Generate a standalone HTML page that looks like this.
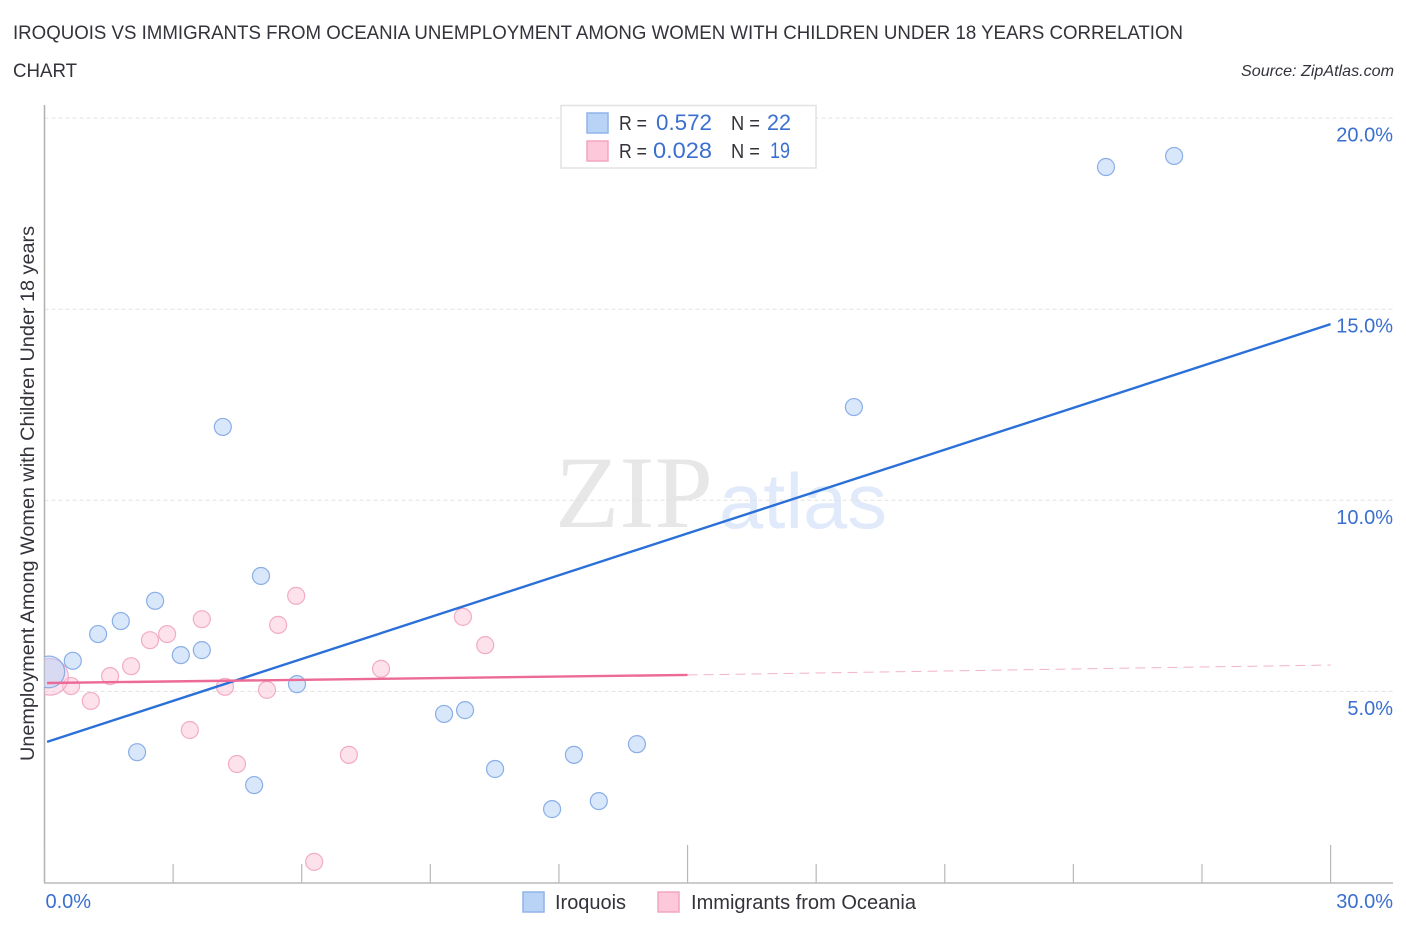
<!DOCTYPE html>
<html lang="en">
<head>
<meta charset="utf-8">
<title>Iroquois vs Immigrants from Oceania Correlation Chart</title>
<style>
html,body{margin:0;padding:0;background:#fff;width:1406px;height:930px;overflow:hidden}
svg{display:block;font-family:"Liberation Sans",sans-serif}
</style>
</head>
<body>
<svg id="chart" xmlns="http://www.w3.org/2000/svg" width="1406" height="930" viewBox="0 0 1406 930">
  <defs><clipPath id="plot-clip"><rect x="44.5" y="100" width="1300" height="783"/></clipPath></defs>
  <text x="13" y="39" font-size="19.5" fill="#33333b" textLength="1170" lengthAdjust="spacingAndGlyphs">IROQUOIS VS IMMIGRANTS FROM OCEANIA UNEMPLOYMENT AMONG WOMEN WITH CHILDREN UNDER 18 YEARS CORRELATION</text>
  <text x="13" y="77" font-size="19.5" fill="#33333b" textLength="64" lengthAdjust="spacingAndGlyphs">CHART</text>
  <text x="1394" y="76" font-size="16.100" font-style="italic" fill="#33333b" text-anchor="end">Source: ZipAtlas.com</text>
  <text x="555" y="527" font-family="'Liberation Serif',serif" font-size="103" fill="#e7e7e7" textLength="158" lengthAdjust="spacingAndGlyphs">ZIP</text>
  <text x="719" y="528" font-family="'Liberation Sans',sans-serif" font-size="78" fill="#e0eafa" textLength="168" lengthAdjust="spacingAndGlyphs">atlas</text>
  <g id="grid"></g>
  <g id="axes"></g>
  <g id="points-pink" clip-path="url(#plot-clip)"></g>
  <g id="points-blue" clip-path="url(#plot-clip)"></g>
  <g id="trends"></g>
  <g id="tick-labels"></g>
  <text transform="translate(34,761) rotate(-90)" font-size="19" fill="#33333b" textLength="535" lengthAdjust="spacingAndGlyphs">Unemployment Among Women with Children Under 18 years</text>

  <g>
    <rect x="561" y="105.500" width="255" height="62.500" fill="#fff" stroke="#e2e2e2" stroke-width="1.500"/>
    <rect x="587" y="113" width="21" height="20" fill="#b9d3f7" stroke="#8fb4ea" stroke-width="1.500"/>
    <rect x="587" y="141" width="21" height="20" fill="#fcc8da" stroke="#f3a6c0" stroke-width="1.500"/>
    <text x="619" y="130" font-size="20" fill="#33333b" textLength="28" lengthAdjust="spacingAndGlyphs">R =</text>
    <text x="656" y="130" font-size="22" fill="#3a6fd0" textLength="56" lengthAdjust="spacingAndGlyphs">0.572</text>
    <text x="731" y="130" font-size="20" fill="#33333b" textLength="29" lengthAdjust="spacingAndGlyphs">N =</text>
    <text x="767" y="130" font-size="22" fill="#3a6fd0" textLength="24" lengthAdjust="spacingAndGlyphs">22</text>
    <text x="619" y="158" font-size="20" fill="#33333b" textLength="28" lengthAdjust="spacingAndGlyphs">R =</text>
    <text x="653" y="158" font-size="22" fill="#3a6fd0" textLength="59" lengthAdjust="spacingAndGlyphs">0.028</text>
    <text x="731" y="158" font-size="20" fill="#33333b" textLength="29" lengthAdjust="spacingAndGlyphs">N =</text>
    <text x="770" y="158" font-size="22" fill="#3a6fd0" textLength="20" lengthAdjust="spacingAndGlyphs">19</text>
  </g>

  <g>
    <rect x="523" y="892" width="21" height="20" fill="#b9d3f7" stroke="#8fb4ea" stroke-width="1.500"/>
    <text x="555" y="909" font-size="20" fill="#33333b" textLength="71" lengthAdjust="spacingAndGlyphs">Iroquois</text>
    <rect x="658" y="892" width="21" height="20" fill="#fcc8da" stroke="#f3a6c0" stroke-width="1.500"/>
    <text x="691" y="909" font-size="20" fill="#33333b" textLength="225" lengthAdjust="spacingAndGlyphs">Immigrants from Oceania</text>
  </g>
</svg>
<script>
const yTickValues = [5, 10, 15, 20];
const yTickLabels = ['5.0%', '10.0%', '15.0%', '20.0%'];
const xTickValues = [0, 3, 6, 9, 12, 15, 18, 21, 24, 27, 30];
const xTallTicks = [0, 15, 30];
const xEndValues = [0, 30];
const xEndLabels = ['0.0%', '30.0%'];

const iroquoisX = [24.76, 26.35, 18.88, 4.16, 5.05, 2.58, 1.78, 1.25, 0.66, 3.18, 3.67, 5.89, 9.32, 9.81, 2.16, 4.89, 10.51, 11.84, 12.35, 12.93, 13.82, 0.10];
const iroquoisY = [18.72, 19.01, 12.44, 11.92, 8.02, 7.37, 6.84, 6.50, 5.80, 5.95, 6.08, 5.19, 4.41, 4.51, 3.41, 2.55, 2.97, 1.92, 3.34, 2.13, 3.62, 5.51];
const iroquoisWeight = [1, 1, 1, 1, 1, 1, 1, 1, 1, 1, 1, 1, 1, 1, 1, 1, 1, 1, 1, 1, 1, 8];

const oceaniaX = [0.62, 1.08, 1.53, 2.02, 2.46, 2.86, 3.67, 4.21, 5.19, 5.45, 5.87, 3.39, 4.49, 7.10, 7.85, 9.76, 10.28, 6.29, 0.13];
const oceaniaY = [5.14, 4.75, 5.40, 5.66, 6.34, 6.50, 6.89, 5.12, 5.04, 6.74, 7.50, 3.99, 3.10, 3.34, 5.59, 6.95, 6.21, 0.54, 5.38];
const oceaniaWeight = [1, 1, 1, 1, 1, 1, 1, 1, 1, 1, 1, 1, 1, 1, 1, 1, 1, 1, 14];

const iroquoisTrendX = [0.06, 30];
const iroquoisTrendY = [3.68, 14.61];
const oceaniaTrendX = [0.06, 15];
const oceaniaTrendY = [5.22, 5.43];
const oceaniaDashX = [15, 30];
const oceaniaDashY = [5.43, 5.69];

const NS = 'http://www.w3.org/2000/svg';
function xScale(v) { return 44.5 + v * 42.87; }
function yScale(v) { return 882.5 - v * 38.22; }
function make(tag, parentId, props) {
  const el = document.createElementNS(NS, tag);
  for (const k in props) el.setAttribute(k, props[k]);
  document.getElementById(parentId).appendChild(el);
  return el;
}

yTickValues.forEach(function (v, i) {
  const line = make('line', 'grid', {x1: 44.5, x2: 1393, y1: yScale(v), y2: yScale(v), stroke: '#e2e2e2', 'stroke-width': 1, 'stroke-dasharray': '4 3'});
  
  
  const label = make('text', 'tick-labels', {x: 1393, y: yScale(v) + 23.500, 'font-size': 20, fill: '#3a6fd0', 'text-anchor': 'end'});
  label.textContent = yTickLabels[i];
  
  
});

const yAxis = make('line', 'axes', {x1: 44.5, x2: 44.5, y1: 105, y2: 883, stroke: '#b0b0b0', 'stroke-width': 1.500});


const xAxis = make('line', 'axes', {x1: 44, x2: 1393, y1: 883, y2: 883, stroke: '#bcbcbc', 'stroke-width': 1.500});



xTickValues.forEach(function (v) {
  const top = xTallTicks.indexOf(v) >= 0 ? 845 : 864;
  const tick = make('line', 'axes', {x1: xScale(v), x2: xScale(v), y1: top, y2: 883, stroke: '#b8b8b8', 'stroke-width': 1.200});
  
  
});

xEndValues.forEach(function (v, i) {
  const anchor = i === 0 ? 'start' : 'end';
  const px = i === 0 ? xScale(v) + 1 : 1393;
  const label = make('text', 'tick-labels', {x: px, y: 908, 'font-size': 20, fill: '#3a6fd0', 'text-anchor': anchor});
  label.textContent = xEndLabels[i];
  
  
});

function radius(w) { return w === 1 ? 8.500 : 8.500 + Math.sqrt(w) * 2.600; }

oceaniaX.forEach(function (v, i) {
  const c = make('circle', 'points-pink', {cx: xScale(v), cy: yScale(oceaniaY[i]), r: radius(oceaniaWeight[i]), fill: '#fcc8da', 'fill-opacity': 0.55, stroke: '#f0a0bd', 'stroke-opacity': 0.85, 'stroke-width': 1.200});
  
  
});

iroquoisX.forEach(function (v, i) {
  const c = make('circle', 'points-blue', {cx: xScale(v), cy: yScale(iroquoisY[i]), r: radius(iroquoisWeight[i]), fill: '#b9d3f7', 'fill-opacity': 0.55, stroke: '#7ea6e4', 'stroke-opacity': 0.9, 'stroke-width': 1.200});
  
  
});

const blueTrend = make('line', 'trends', {x1: xScale(iroquoisTrendX[0]), y1: yScale(iroquoisTrendY[0]), x2: xScale(iroquoisTrendX[1]), y2: yScale(iroquoisTrendY[1]), stroke: '#2a70d8', 'stroke-width': 2.400});


const pinkTrend = make('line', 'trends', {x1: xScale(oceaniaTrendX[0]), y1: yScale(oceaniaTrendY[0]), x2: xScale(oceaniaTrendX[1]), y2: yScale(oceaniaTrendY[1]), stroke: '#ec6a97', 'stroke-width': 2.400});


const pinkDash = make('line', 'trends', {x1: xScale(oceaniaDashX[0]), y1: yScale(oceaniaDashY[0]), x2: xScale(oceaniaDashX[1]), y2: yScale(oceaniaDashY[1]), stroke: '#f0a0bd', 'stroke-width': 1, 'stroke-opacity': 0.8, 'stroke-dasharray': '10 6'});


</script>
</body>
</html>
